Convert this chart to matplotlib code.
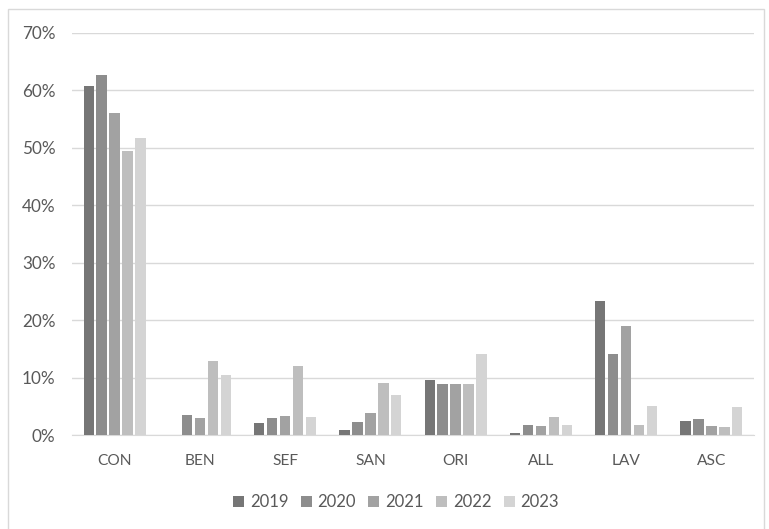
import numpy as np
import matplotlib
matplotlib.use("Agg")
import matplotlib.pyplot as plt
from matplotlib.patches import Rectangle
from matplotlib.ticker import FuncFormatter

plt.rcParams['font.family'] = ['Lato', 'DejaVu Sans']

categories = ['CON', 'BEN', 'SEF', 'SAN', 'ORI', 'ALL', 'LAV', 'ASC']
years = ['2019', '2020', '2021', '2022', '2023']
v2019 = [60.8, 0.0, 2.1, 0.9, 9.6, 0.3, 23.4, 2.4]
v2020 = [62.7, 3.5, 3.0, 2.2, 8.9, 1.7, 14.1, 2.8]
v2021 = [56.1, 3.0, 3.3, 3.9, 8.9, 1.6, 18.9, 1.6]
v2022 = [49.5, 12.8, 12.1, 9.1, 8.9, 3.2, 1.7, 1.4]
v2023 = [51.8, 10.5, 3.2, 6.9, 14.1, 1.7, 5.1, 4.8]
series = [v2019, v2020, v2021, v2022, v2023]
colors = ['#767676', '#8d8d8d', '#a2a2a2', '#bebebe', '#d4d4d4']

fig = plt.figure(figsize=(7.69, 5.29), dpi=100)
ax = fig.add_axes([72 / 769, 1 - 435 / 529, 682 / 769, 402 / 529])

x = np.arange(len(categories))
pitch = 0.152
width = 0.122
for k, (vals, yr) in enumerate(zip(series, years)):
    ax.bar(x + (k - 2) * pitch, vals, width=width, color=colors[k], label=yr, zorder=3)

ax.set_xlim(-0.5, len(categories) - 0.5)
ax.set_ylim(0, 70)
ax.set_yticks(np.arange(0, 71, 10))
ax.yaxis.set_major_formatter(FuncFormatter(lambda v, p: '{:.0f}%'.format(v)))
ax.set_xticks(x)
ax.set_xticklabels(categories)
ax.grid(axis='y', color='#d9d9d9', linewidth=1, zorder=0)
for s in ['top', 'right', 'left']:
    ax.spines[s].set_visible(False)
ax.spines['bottom'].set_color('#d9d9d9')
ax.tick_params(axis='both', length=0, colors='#595959')
ax.tick_params(axis='x', pad=14, labelsize=11.2)
ax.tick_params(axis='y', pad=12, labelsize=12.3)

leg = fig.legend(loc='center', bbox_to_anchor=(396 / 769, 1 - 502 / 529), ncol=5, frameon=False,
                 handlelength=0.65, handleheight=0.65, handletextpad=0.35, columnspacing=0.75,
                 fontsize=12)
for t in leg.get_texts():
    t.set_color('#595959')

fig.patches.append(Rectangle((7.5 / 769, -5 / 529), 756 / 769, 525 / 529, transform=fig.transFigure,
                             fill=False, edgecolor='#d9d9d9', linewidth=1))

fig.savefig('out.png', dpi=100, facecolor='white')
